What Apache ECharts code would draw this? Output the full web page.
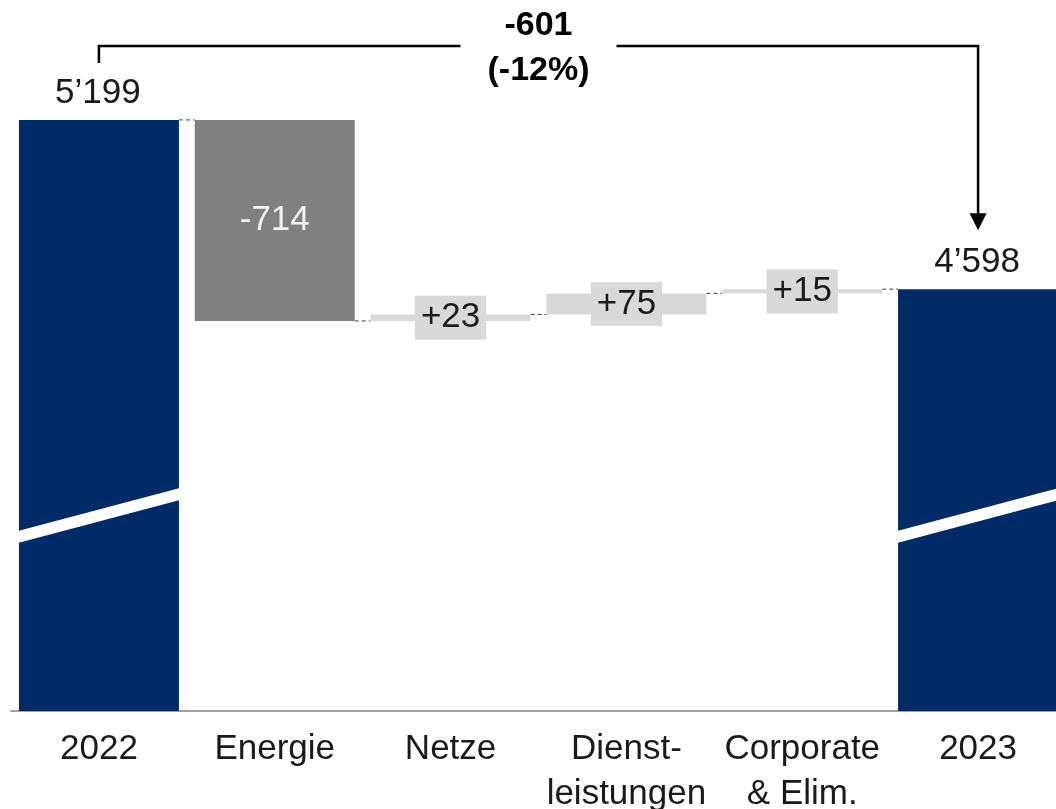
<!DOCTYPE html>
<html><head><meta charset="utf-8">
<script src="https://cdn.jsdelivr.net/npm/echarts@6/dist/echarts.min.js"></script>
<style>html,body{margin:0;padding:0;background:#fff;overflow:hidden}#c{width:1056px;height:809px}</style>
</head><body><div id="c"></div>
<script>
const categories = ['2022', 'Energie', 'Netze', 'Dienst-\nleistungen', 'Corporate\n& Elim.', '2023'];
const values = [5199, -714, 23, 75, 15, 4598];
const isTotal = [true, false, false, false, false, true];
const valueLabels = ['5’199', '-714', '+23', '+75', '+15', '4’598'];
const yMin = 3100, yMax = 5600;
const breakLevels = [3718, 3871]; // diagonal break band (left, right) in the total bars

const FONT = '"Liberation Sans", Arial, sans-serif';
const NAVY = '#002b66', GREY = '#808080', LIGHT = '#d9d9d9', INK = '#1a1a1a';

// waterfall rows: [index, low, high, value]
let running = 0;
const rows = values.map((v, i) => {
  if (isTotal[i]) { running = v; return [i, yMin, v, v]; }
  const lo = Math.min(running, running + v), hi = Math.max(running, running + v);
  running += v;
  return [i, lo, hi, v];
});
// connector levels between bar i and i+1
const connectors = [];
running = 0;
values.forEach((v, i) => {
  running = isTotal[i] ? v : running + v;
  if (i < values.length - 1) connectors.push([i, running]);
});
const diff = values[values.length - 1] - values[0];
const pct = Math.round(diff / values[0] * 100);

const BW = 0.91;

function renderBar(params, api) {
  const i = api.value(0), lo = api.value(1), hi = api.value(2), v = api.value(3);
  const pTop = api.coord([i, hi]), pBot = api.coord([i, lo]);
  const bw = api.size([1, 0])[0] * BW;
  const x = pTop[0] - bw / 2, y = pTop[1], h = pBot[1] - pTop[1];
  const color = isTotal[i] ? NAVY : (v < 0 ? GREY : LIGHT);
  const children = [{ type: 'rect', shape: { x, y, width: bw, height: h }, style: { fill: color } }];
  if (isTotal[i]) {
    const yl = api.coord([i, breakLevels[0]])[1], yr = api.coord([i, breakLevels[1]])[1];
    children.push({ type: 'polygon', shape: { points: [[x - 1, yl - 6], [x + bw + 1, yr - 6], [x + bw + 1, yr + 6], [x - 1, yl + 6]] }, style: { fill: '#fff' } });
    children.push({ type: 'text', x: pTop[0] - 1, y: y - 9, style: { text: valueLabels[i], font: '35px ' + FONT, fill: INK, align: 'center', verticalAlign: 'bottom' } });
  } else if (v < 0) {
    children.push({ type: 'text', x: pTop[0], y: y + h / 2, style: { text: valueLabels[i], font: '35px ' + FONT, fill: '#f2f2f2', align: 'center', verticalAlign: 'middle' } });
  } else {
    children.push({ type: 'text', x: pTop[0], y: y + h / 2, style: { text: valueLabels[i], font: '35px ' + FONT, fill: INK, align: 'center', verticalAlign: 'middle', backgroundColor: LIGHT, padding: [5, 6, 4, 6] } });
  }
  return { type: 'group', children };
}

function renderConnector(params, api) {
  const i = api.value(0), lvl = api.value(1);
  const bw = api.size([1, 0])[0] * BW;
  const a = api.coord([i, lvl]), b = api.coord([i + 1, lvl]);
  return { type: 'line', shape: { x1: a[0] + bw / 2, y1: a[1], x2: b[0] - bw / 2, y2: a[1] }, style: { stroke: '#404040', lineWidth: 1, lineDash: [4, 3] } };
}

function renderBracket(params, api) {
  const s = api.coord([api.value(0), values[0]]);
  const e = api.coord([api.value(1), values[values.length - 1]]);
  const topY = s[1] - 74, legY = s[1] - 57, tipY = e[1] - 59;
  const cx = (s[0] + e[0]) / 2, gap = 78;
  const st = { stroke: '#000', lineWidth: 2.5, fill: null };
  return { type: 'group', children: [
    { type: 'polyline', shape: { points: [[s[0], legY], [s[0], topY], [cx - gap, topY]] }, style: st },
    { type: 'polyline', shape: { points: [[cx + gap, topY], [e[0], topY], [e[0], tipY - 16]] }, style: st },
    { type: 'polygon', shape: { points: [[e[0], tipY], [e[0] - 8.5, tipY - 17], [e[0] + 8.5, tipY - 17]] }, style: { fill: '#000' } },
    { type: 'text', x: cx, y: topY - 20, style: { text: String(diff), font: 'bold 34px ' + FONT, fill: '#000', align: 'center', verticalAlign: 'middle' } },
    { type: 'text', x: cx, y: topY + 25, style: { text: '(' + pct + '%)', font: 'bold 34px ' + FONT, fill: '#000', align: 'center', verticalAlign: 'middle' } }
  ] };
}

const chart = echarts.init(document.getElementById('c'), null, { renderer: 'canvas' });
chart.setOption({
  animation: false,
  backgroundColor: '#fff',
  grid: { left: 11, width: 1055, top: 7, bottom: 98, containLabel: false, outerBoundsMode: 'none' },
  xAxis: {
    type: 'category', data: categories,
    axisTick: { show: false },
    axisLine: { lineStyle: { color: '#a0a0a0', width: 2 } },
    axisLabel: { interval: 0, fontSize: 35, lineHeight: 45, color: INK, fontFamily: FONT, margin: 16 },
    splitLine: { show: false }
  },
  yAxis: { type: 'value', min: yMin, max: yMax, show: false, splitLine: { show: false } },
  series: [
    { type: 'custom', renderItem: renderConnector, data: connectors, z: 1, silent: true },
    { type: 'custom', renderItem: renderBar, data: rows, z: 2, silent: true },
    { type: 'custom', renderItem: renderBracket, data: [[0, values.length - 1]], z: 3, silent: true }
  ]
});
</script></body></html>
